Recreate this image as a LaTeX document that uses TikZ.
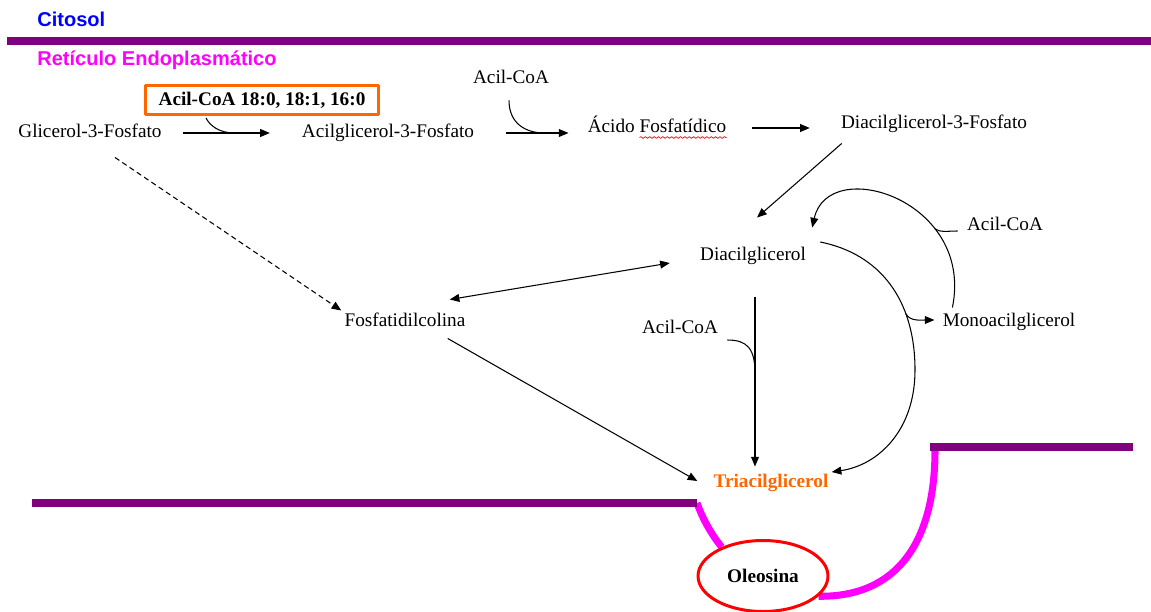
\documentclass[tikz,border=0pt,11pt]{standalone}
\usepackage{fontspec}
\setmainfont{Liberation Serif}
\newfontfamily\titfont{Liberation Sans}
\usetikzlibrary{arrows.meta,calc,shapes.geometric,backgrounds,decorations.pathmorphing}
\definecolor{membrana}{RGB}{128,0,128}
\definecolor{naranja}{RGB}{255,102,0}
\definecolor{lila}{RGB}{255,0,255}
\definecolor{azul}{RGB}{0,0,255}
\begin{document}
\begin{tikzpicture}[x=0.02cm,y=-0.02cm,>={Triangle[length=5.5pt,width=4.5pt]},
		line join=round,
		lbl/.style={inner sep=0pt,text height=8pt,text depth=2.4pt},
		tit/.style={lbl,anchor=west,font=\titfont\bfseries\fontsize{11.4}{13}\selectfont},
		rx/.style={->,line width=0.6pt},
		cv/.style={line width=0.6pt},
		mem/.style={membrana,line width=4pt},
		lip/.style={lila,line width=4pt}]
	\useasboundingbox (0,0) rectangle (1151,611);
	\node[tit,azul] (cit) at (37,22) {Citosol};
	\node[tit,lila] (ret) at (37,61) {Retículo Endoplasmático};
	\node[lbl] (g3p) at (90,133) {Glicerol-3-Fosfato};
	\node[draw=naranja,line width=1.7pt,minimum width=4.66cm,minimum height=0.58cm,inner sep=0pt,font=\bfseries] (acb) at (262,100) {Acil-CoA 18:0, 18:1, 16:0};
	\node[lbl] (ag3p) at (388,133) {Acilglicerol-3-Fosfato};
	\node[lbl] (acoa1) at (511,79) {Acil-CoA};
	\node[lbl] (af) at (657,128) {Ácido Fosfatídico};
	\node[lbl] (dag3p) at (934,124) {Diacilglicerol-3-Fosfato};
	\node[lbl] (dag) at (753,256) {Diacilglicerol};
	\node[lbl] (acoa2) at (1005,226) {Acil-CoA};
	\node[lbl] (mag) at (1009,322) {Monoacilglicerol};
	\node[lbl] (acoa3) at (680,329) {Acil-CoA};
	\node[lbl] (pc) at (405,322) {Fosfatidilcolina};
	\node[lbl,naranja,font=\bfseries] (tag) at (771,483) {Triacilglicerol};
	\node[ellipse,draw=red,line width=1.7pt,fill=white,minimum width=2.6cm,minimum height=1.42cm,font=\bfseries] (ole) at (763,576) {Oleosina};
	%
	\draw[rx,shorten <=11.9pt,shorten >=18.1pt] (g3p.east) -- (ag3p.west);
	\coordinate (j1) at ($(g3p.east)!0.52!(ag3p.west)$);
	\draw[cv] ([shift={(-56,2)}]acb.south) .. controls +(4,8) and +(-15,0) .. (j1);
	\coordinate (e2) at (ag3p.east -| af.west);
	\draw[rx,shorten <=18.1pt,shorten >=10.8pt] (ag3p.east) -- (e2);
	\coordinate (j2) at ($(ag3p.east)!0.62!(e2)$);
	\draw[cv] ([shift={(-2,12)}]acoa1.south) .. controls +(0,22) and +(-20,0) .. (j2);
	\draw[rx,shorten <=14.7pt,shorten >=17.6pt] (af.east) -- (af.east -| dag3p.west);
	\draw[red,line width=0.4pt,decorate,decoration={snake,amplitude=0.5pt,segment length=2.5pt}] ([shift={(-87,0)}]af.south east) -- (af.south east);
	\draw[rx] ([shift={(1,10)}]dag3p.south west) -- ([shift={(4,-29)}]dag.north);
	\draw[rx,dash pattern=on 3pt off 2pt] ([shift={(25,15)}]g3p.south) -- ([shift={(-3,-2)}]pc.north west);
	\draw[<->,line width=0.6pt] ([shift={(-16,-13)}]pc.north east) -- ([shift={(-30,7)}]dag.west);
	\draw[rx] ([shift={(-18,7)}]pc.south east) -- ([shift={(-16,-2)}]tag.west);
	\draw[rx] ([shift={(10,-5)}]mag.north west) .. controls +(22,-108) and +(16,-73) .. ([shift={(6,-19)}]dag.north east) coordinate[pos=0.3] (j4);
	\draw[cv] ([shift={(-9,5)}]acoa2.west) .. controls +(-12,0) and +(6,4) .. (j4);
	\draw[rx] ([shift={(14,-14)}]dag.east) .. controls +(60,12) and +(0,-70) .. (915,370) coordinate[pos=0.7] (br)
		.. controls +(0,60) and +(47,-7) .. ([shift={(3,-11)}]tag.east);
	\draw[rx] (br) .. controls +(4,8) and +(-12,0) .. ([shift={(-8,-2)}]mag.west);
	\draw[rx] ([shift={(2,32)}]dag.south) -- coordinate[pos=0.45] (j3) ($(dag.south |- tag.north)+(2,-7)$);
	\draw[cv] ([shift={(9,11)}]acoa3.east) .. controls +(20,0) and +(0,-25) .. (j3);
	%
	\begin{scope}[on background layer]
		\draw[mem] (7,41) -- (1151,41);
		\draw[lip] (697,503) .. controls (703,520) and (712,535) .. (ole.145);
		\draw[lip] (ole.-20) .. controls +(80,1) and +(0,90) .. (935,450);
		\draw[mem] (32,503) -- (697,503);
		\draw[mem] (930,447) -- (1133,447);
	\end{scope}
\end{tikzpicture}
\end{document}
